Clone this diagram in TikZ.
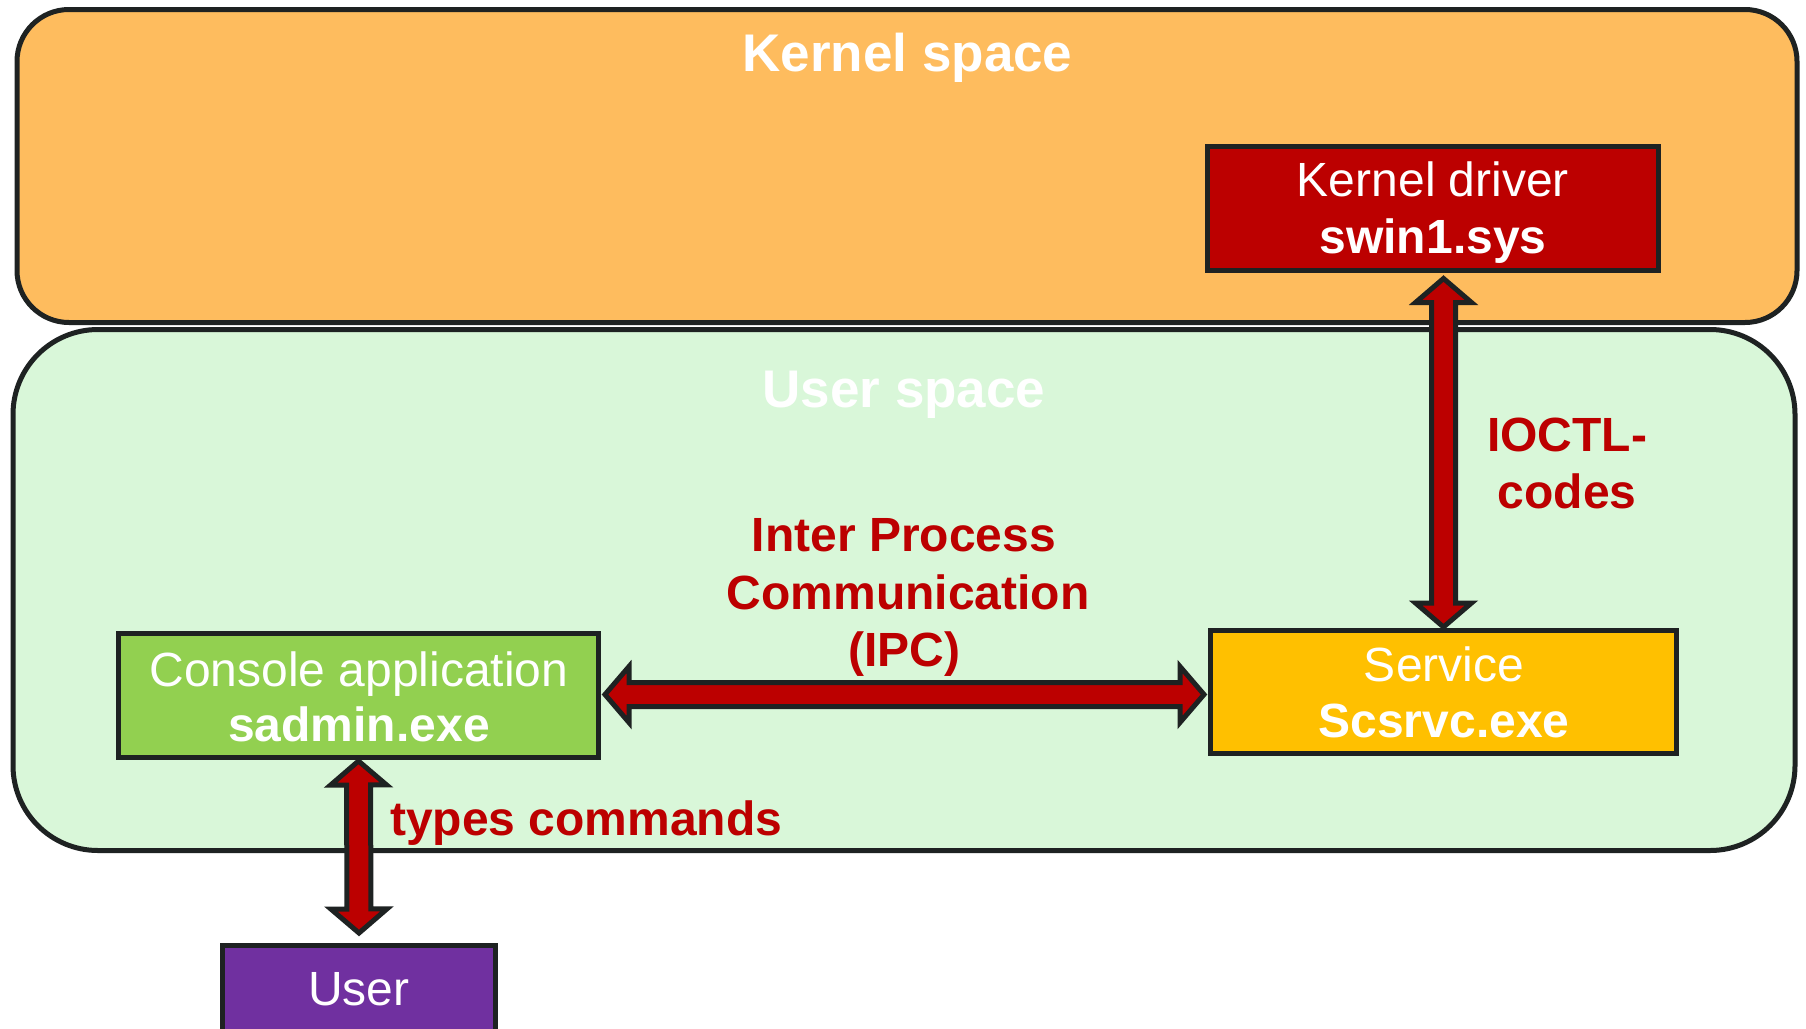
\documentclass[tikz,border=0pt]{standalone}
\usepackage{fontspec}
\setmainfont{Liberation Sans}
\usetikzlibrary{calc}
\definecolor{ksfill}{HTML}{FEBC5E}
\definecolor{usfill}{HTML}{D9F7D9}
\definecolor{outline}{HTML}{1E2222}
\definecolor{drvred}{HTML}{BC0000}
\definecolor{svcyel}{HTML}{FFC000}
\definecolor{congreen}{HTML}{92D050}
\definecolor{usrpurple}{HTML}{7030A0}
\definecolor{lblred}{HTML}{BC0000}
\newcommand\dblarrow[2]{%
  \coordinate (hA) at ($(#1)!24pt!(#2)$);
  \coordinate (hB) at ($(#2)!24pt!(#1)$);
  \draw[fat] (#1) -- ($(hA)!28pt!90:(#2)$) -- ($(hA)!12pt!90:(#2)$)
    -- ($(hB)!12pt!-90:(#1)$) -- ($(hB)!28pt!-90:(#1)$) -- (#2)
    -- ($(hB)!28pt!90:(#1)$) -- ($(hB)!12pt!90:(#1)$)
    -- ($(hA)!12pt!-90:(#2)$) -- ($(hA)!28pt!-90:(#2)$) -- cycle;}
\begin{document}
\begin{tikzpicture}[x=1pt,y=-1pt,
  region/.style={draw=outline,line width=5pt,inner sep=0pt},
  box/.style={draw=outline,line width=5pt,inner sep=0pt,line join=miter},
  title/.style={text=white,font=\fontsize{53}{60}\selectfont\bfseries,anchor=base,inner sep=0pt},
  boxtxt/.style={text=white,font=\fontsize{48}{57}\selectfont,anchor=base,inner sep=0pt},
  boxbold/.style={text=white,font=\fontsize{48}{57}\selectfont\bfseries,anchor=base,inner sep=0pt},
  lbl/.style={text=lblred,font=\fontsize{48}{57}\selectfont\bfseries,anchor=base,inner sep=0pt},
  fat/.style={fill=drvred,draw=outline,line width=5pt,line join=miter}]
\clip (0,0) rectangle (1806,1028);
\fill[white] (0,0) rectangle (1806,1028);
% regions
\node[region,fill=ksfill,rounded corners=52pt,minimum width=1780pt,minimum height=313pt] (ks) at (907,166) {};
\node[region,fill=usfill,rounded corners=85pt,minimum width=1782pt,minimum height=521pt] (us) at (904,590) {};
\node[title] (kst) at (907.5,71) {Kernel space};
\node[title] (ust) at (904,407) {User space};
% boxes
\node[box,fill=drvred,minimum width=451pt,minimum height=124pt] (drv) at (1433,208) {};
\node[box,fill=svcyel,minimum width=466pt,minimum height=123pt] (svc) at (1443.5,692) {};
\node[box,fill=congreen,minimum width=480pt,minimum height=124pt] (con) at (358.5,695.5) {};
\node[box,fill=usrpurple,minimum width=273pt,minimum height=97pt] (usr) at (359,994) {};
\node[boxtxt] (drvA) at (1433,196) {Kernel driver};
\node[boxbold] (drvB) at (1433,253) {swin1.sys};
\node[boxtxt] (svcA) at (1444,681) {Service};
\node[boxbold] (svcB) at (1444,737) {Scsrvc.exe};
\node[boxtxt] (conA) at (359,686) {Console application};
\node[boxbold] (conB) at (359,741) {sadmin.exe};
\node[boxtxt] (usrA) at (359,1005) {User};
% connectors
\coordinate (k1) at ($(svc.north |- drv.south)+(0,6)$);
\coordinate (k2) at ($(svc.north)+(0,-1)$);
\dblarrow{k1}{k2}
\coordinate (i1) at ($(con.east)+(4,-1)$);
\coordinate (i2) at ($(con.east -| svc.west)+(-4,-1)$);
\dblarrow{i1}{i2}
\coordinate (u1) at ($(con.south)+(0,1)$);
\coordinate (u2) at ($(usr.north)+(0,-10)$);
\dblarrow{u1}{u2}
% labels
\node[lbl] (ipcA) at (904,551) {Inter Process};
\node[lbl] (ipcB) at (908,609) {Communication};
\node[lbl] (ipcC) at (904,666) {(IPC)};
\node[lbl] (ioA) at (1567,451) {IOCTL-};
\node[lbl] (ioB) at (1567,508) {codes};
\node[lbl,anchor=base west] (typ) at (390,835) {types commands};
\end{tikzpicture}
\end{document}
